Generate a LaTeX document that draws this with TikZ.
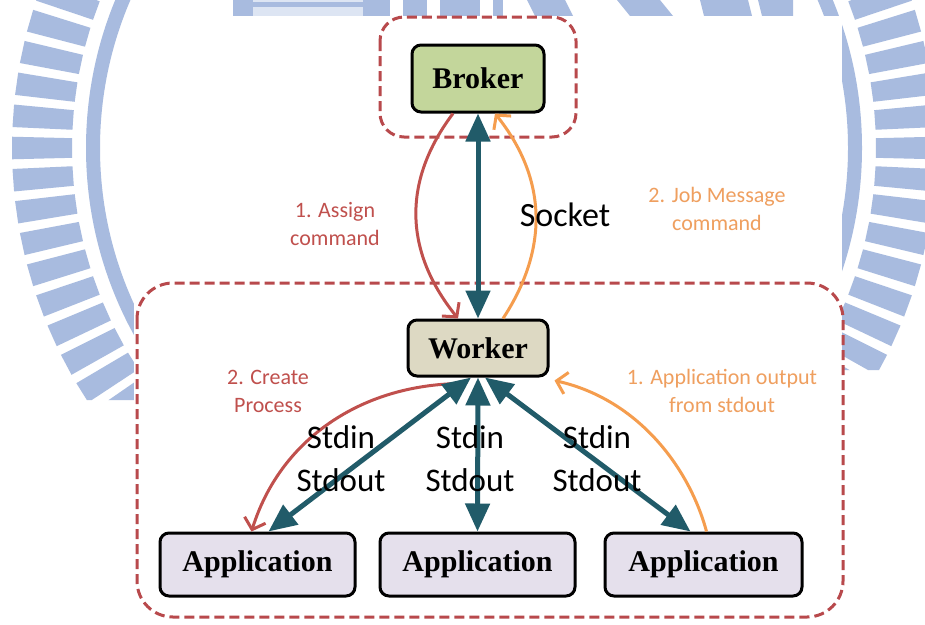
\documentclass[tikz,border=0pt]{standalone}
\usepackage{fontspec}
\setmainfont{Liberation Serif}
\newfontfamily\lblfont{Carlito}
\usetikzlibrary{arrows.meta}

\definecolor{wmblue}{HTML}{A8BBDF}
\definecolor{wmpale}{HTML}{DDE5F3}
\definecolor{linkteal}{HTML}{215B69}
\definecolor{grpred}{HTML}{B8494C}
\definecolor{arrred}{HTML}{C0504D}
\definecolor{arrorange}{HTML}{F59D4E}
\definecolor{txtorange}{HTML}{EF9F5F}
\definecolor{brokerfill}{HTML}{C3D69B}
\definecolor{workerfill}{HTML}{DDD9C3}
\definecolor{appfill}{HTML}{E5E0EC}

\tikzset{
  box/.style={draw=black, line width=3pt, rounded corners=9pt, inner sep=0pt,
    font=\fontsize{30}{36}\selectfont\bfseries},
  group/.style={draw=grpred, line width=3pt, dash pattern=on 10pt off 5pt},
  link/.style={draw=linkteal, line width=5pt,
    {Triangle[length=28pt,width=24pt]}-{Triangle[length=28pt,width=24pt]}},
  redarrow/.style={draw=arrred, line width=3pt,
    -{Straight Barb[length=10pt,width=22pt]}},
  orgarrow/.style={draw=arrorange, line width=3pt,
    -{Straight Barb[length=10pt,width=22pt]}},
  lbl/.style={font=\lblfont\fontsize{22}{28}\selectfont, align=center, inner sep=0pt},
  io/.style={font=\lblfont\fontsize{33}{43}\selectfont, align=center, inner sep=0pt},
}

\begin{document}
\begin{tikzpicture}[x=1pt, y=-1pt]
\useasboundingbox (0,0) rectangle (925,624);
\fill[white] (0,0) rectangle (925,624);

% emblem in the background
\begin{scope}
  \clip (0,0) rectangle (925,624);
  \fill[wmblue, even odd rule] (474,148) circle[radius=388] (474,148) circle[radius=374];
  \begin{scope}
    \clip (0,0) rectangle (134,400) (842,0) rectangle (925,370);
    \begin{scope}[shift={(474,148)}]
      \foreach \a in {0,4,...,356} {
        \fill[wmblue] (\a-1.4:402) -- (\a-1.4:462) -- (\a+1.4:462) -- (\a+1.4:402) -- cycle;
      }
    \end{scope}
  \end{scope}
  % lettering along the top edge
  \fill[wmpale] (253,0) rectangle (363,16);
  \fill[wmblue] (233,0) rectangle (253,16);
  \fill[wmblue] (253,2) rectangle (363,7);
  \fill[wmblue] (363,0) rectangle (390,16);
  \fill[wmblue] (403,0) rectangle (427,16);
  \fill[wmblue] (440,0) rectangle (480,16);
  \fill[wmblue] (493,0) rectangle (503,16);
  \fill[wmblue] (527,0) -- (565,0) -- (573,16) -- (535,16) -- cycle;
  \fill[wmblue] (617,0) -- (660,0) -- (673,16) -- (630,16) -- cycle;
  \fill[wmblue] (700,0) -- (748,0) -- (752,16) -- (704,16) -- cycle;
  \fill[wmblue] (758,0) -- (793,0) -- (793,16) -- (762,16) -- cycle;
\end{scope}

% drawing area
\fill[white] (134,16) rectangle (842,624);

% step labels
\node[lbl, text=arrred] (assignlbl) at (335,224) {1. Assign\\command};
\node[lbl, text=txtorange] (joblbl) at (717,209) {2. Job Message\\command};
\node[lbl, text=arrred] (createlbl) at (268,391) {2. Create\\Process};
\node[lbl, text=txtorange] (outlbl) at (722,391) {1. Application output\\from stdout};

% broker and worker groups
\draw[group, rounded corners=24pt] (380,17) rectangle (576,137);
\draw[group, rounded corners=36pt] (137,283) rectangle (843,617);

% components
\node[box, fill=brokerfill, minimum width=132pt, minimum height=67pt] (broker) at (478,78.5) {Broker};
\node[box, fill=workerfill, minimum width=140pt, minimum height=56pt] (worker) at (478,348) {Worker};
\node[box, fill=appfill, minimum width=195pt, minimum height=63pt] (app1) at (257.5,564.5) {Application};
\node[box, fill=appfill, minimum width=195pt, minimum height=63pt] (app2) at (477.5,564.5) {Application};
\node[box, fill=appfill, minimum width=197pt, minimum height=63pt] (app3) at (703.5,564.5) {Application};

% message flow
\draw[redarrow] ([xshift=-25pt]broker.south) .. controls (403,180) and (403,250) .. ([xshift=-20pt]worker.north);
\draw[orgarrow] ([xshift=25pt]worker.north) .. controls (548,250) and (548,180) .. ([xshift=17pt]broker.south);
\draw[redarrow] ([xshift=-18pt,yshift=-6pt]worker.south) .. controls (360,385) and (280,440) .. ([xshift=-6pt]app1.north);
\draw[orgarrow] ([xshift=3pt]app3.north) .. controls (690,470) and (640,400) .. ([xshift=5pt,yshift=-3pt]worker.south east);

% channels
\draw[link] (broker.south) -- (worker.north);
\draw[link] ([xshift=-7pt]worker.south) -- ([xshift=11pt]app1.north);
\draw[link] (worker.south) -- (app2.north);
\draw[link] ([xshift=7pt]worker.south) -- ([xshift=-13pt]app3.north);

% channel labels
\node[io, font=\lblfont\fontsize{34}{40}\selectfont] (socketlbl) at (565,215) {Socket};
\node[io] (io1) at (341,459) {Stdin\\Stdout};
\node[io] (io2) at (470,459) {Stdin\\Stdout};
\node[io] (io3) at (597,459) {Stdin\\Stdout};
\end{tikzpicture}
\end{document}
